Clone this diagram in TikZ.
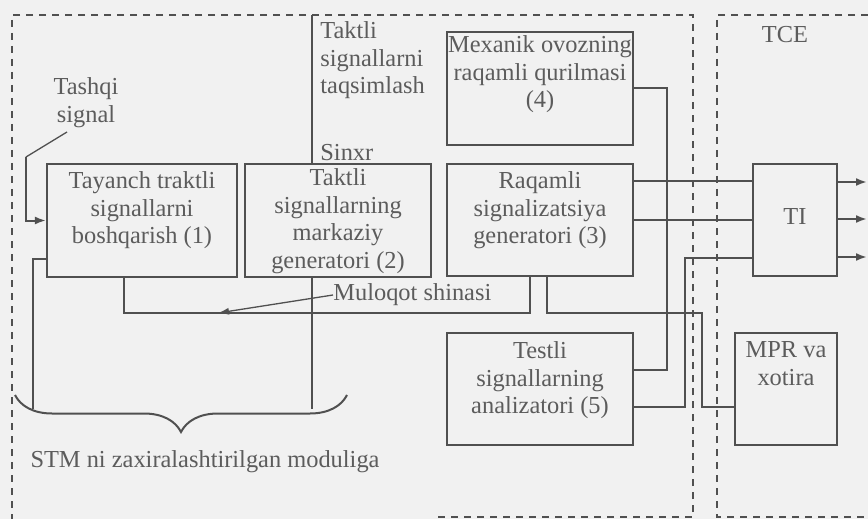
\documentclass[tikz,border=0pt]{standalone}
\usepackage{fontspec}
\setmainfont{Liberation Serif}
\usetikzlibrary{arrows.meta,calc,decorations.pathreplacing}
\definecolor{paper}{RGB}{241,241,241}
\definecolor{ink}{RGB}{80,80,80}
\definecolor{txt}{RGB}{92,92,92}
\begin{document}
\begin{tikzpicture}[x=0.5pt,y=-0.5pt,
  box/.style={draw=ink, line width=1.1pt, rectangle, inner sep=0pt},
  lbl/.style={text=txt, font=\fontsize{12.2}{13.9}\selectfont, inner sep=0pt, align=center},
  wire/.style={draw=ink, line width=1pt},
  leader/.style={draw=ink, line width=0.65pt},
  frame/.style={draw=ink, line width=0.8pt, dash pattern=on 3.5pt off 3pt},
  arr/.style={wire, -{Latex[length=5.5pt,width=4pt]}},
]
\fill[paper] (0,0) rectangle (868,519);
\useasboundingbox (0,0) rectangle (868,519);

% dashed enclosures
\draw[frame] (438,517) -- (693,517) -- (693,15) -- (12,15) -- (12,519);
\draw[frame] (868,15) -- (717,15) -- (717,517) -- (868,517);
\node[lbl] (tce) at (785,35) {TCE};

% blocks
\node[box, minimum width=95pt, minimum height=56.5pt] (b1) at (142,220.5) {};
\node[box, minimum width=93pt, minimum height=56.5pt] (b2) at (338,220.5) {};
\node[box, minimum width=93pt, minimum height=56pt] (b3) at (540,220) {};
\node[box, minimum width=93pt, minimum height=56.5pt] (b4) at (540,88.5) {};
\node[box, minimum width=93pt, minimum height=56pt] (b5) at (540,389) {};
\node[box, minimum width=42pt, minimum height=56pt] (ti) at (795,220) {};
\node[box, minimum width=51pt, minimum height=56pt] (mpr) at (786,389) {};

% block texts
\node[lbl, anchor=north] (b1t) at (142,171) {Tayanch traktli\\signallarni\\boshqarish (1)};
\node[lbl, anchor=north] (b2t) at (338,168) {Taktli\\signallarning\\markaziy\\generatori (2)};
\node[lbl, anchor=north] (b3t) at (540,171) {Raqamli\\signalizatsiya\\generatori (3)};
\node[lbl, anchor=north] (b4t) at (540,35) {Mexanik ovozning\\raqamli qurilmasi\\(4)};
\node[lbl, anchor=north] (b5t) at (540,341) {Testli\\signallarning\\analizatori (5)};
\node[lbl] (tit) at (795,217) {TI};
\node[lbl, anchor=north] (mprt) at (786,341) {MPR va\\xotira};

% free labels
\node[lbl, anchor=north west, align=left] (clk) at (320,21) {Taktli\\signallarni\\taqsimlash};
\node[lbl, anchor=west] (sinxr) at (320,153) {Sinxr};
\node[lbl, anchor=north] (tash) at (86,77) {Tashqi\\signal};
\node[lbl, anchor=west] (mul) at (333,295) {Muloqot shinasi};
\node[lbl] (stm) at (205,462) {STM ni zaxiralashtirilgan moduliga};

% junction points
\coordinate (tin) at (26,157);
\coordinate (tlead) at (67,132);
\coordinate (ctop) at (312,15);
\coordinate (brL) at (33,409);
\coordinate (brR) at (312,409);
\coordinate (busL) at (124,313);
\coordinate (busR) at (530,313);
\coordinate (busmark) at (218,313);
\coordinate (j3) at (685,407);
\coordinate (j4) at (667,370);
\coordinate (j5a) at (547,313);
\coordinate (j5b) at (702,313);
\coordinate (j5c) at (702,407);
\coordinate (o1) at (867,182);
\coordinate (o2) at (867,219);
\coordinate (o3) at (867,257);
\coordinate (brA) at (15,395);
\coordinate (brB) at (347,395);

% external signal input
\draw[arr] (tin) |- (b1.west);
\draw[leader] (tin) -- (tlead);

% clock distribution line
\draw[wire] (ctop) -- (ctop |- b2.north);
\draw[wire] (ctop |- b2.south) -- (brR);
\draw[wire] ($(b1.south west)+(0,-19)$) -| (brL);

% communication bus
\draw[wire] (busL |- b1.south) -- (busL) -- (busR) -- (busR |- b3.south);
\draw[leader, -{Latex[length=5.5pt,width=3.5pt]}] (mul.west) -- (busmark);

% links to TI and MPR
\draw[wire] ($(b3.north east)+(0,18)$) -- ($(ti.north west)+(0,18)$);
\draw[wire] (b3.east) -- (b3.east -| ti.west);
\draw[wire] ($(ti.south west)+(0,-19)$) -| (j3) -- (j3 -| b5.east);
\draw[wire] (b4.east) -| (j4) -- (j4 -| b5.east);
\draw[wire] (j5a |- b3.south) -- (j5a) -- (j5b) -- (j5c) -- (j5c -| mpr.west);

% TI outputs
\draw[arr] (o1 -| ti.east) -- (o1);
\draw[arr] (o2 -| ti.east) -- (o2);
\draw[arr] (o3 -| ti.east) -- (o3);

% brace towards the standby module
\draw[wire, decorate, decoration={brace, mirror, amplitude=18.5pt}] (brA) -- (brB);
\end{tikzpicture}
\end{document}
